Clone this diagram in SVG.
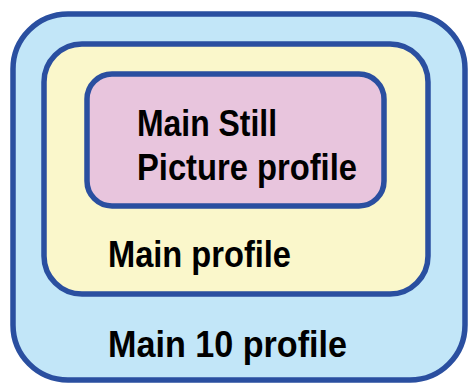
<svg xmlns="http://www.w3.org/2000/svg" width="471" height="383" viewBox="0 0 471 383">
<style>
.box{stroke:#2A4FA0;stroke-width:5.5}
.t{font-family:"Liberation Sans",Arial,sans-serif;font-weight:bold;font-size:37px;fill:#000}
</style>
<rect width="471" height="383" fill="#FFFFFF"/>
<g id="main10">
<rect class="box" x="13" y="14" width="452" height="366" rx="55" ry="55" fill="#C2E6F8"/>
<text class="t" x="108" y="357" textLength="239" lengthAdjust="spacingAndGlyphs">Main 10 profile</text>
</g>
<g id="main">
<rect class="box" x="44" y="44" width="384" height="250" rx="38" ry="38" fill="#FAF7CB"/>
<text class="t" x="108" y="267" textLength="183" lengthAdjust="spacingAndGlyphs">Main profile</text>
</g>
<g id="mainstill">
<rect class="box" x="87" y="74" width="297" height="132" rx="25" ry="25" fill="#E8C5DD"/>
<text class="t" x="137" y="136" textLength="140" lengthAdjust="spacingAndGlyphs">Main Still</text>
<text class="t" x="137" y="180" textLength="220" lengthAdjust="spacingAndGlyphs">Picture profile</text>
</g>
<g id="connectors"/>
</svg>
